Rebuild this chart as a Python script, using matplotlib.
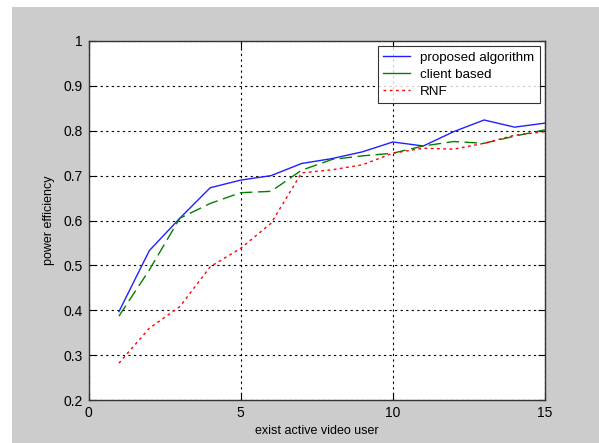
import matplotlib
matplotlib.use("Agg")
import matplotlib.pyplot as plt
from matplotlib.patches import Rectangle

plt.rcParams['font.family'] = ['Liberation Sans', 'DejaVu Sans']

users = [1, 2, 3, 4, 5, 6, 7, 8, 9, 10, 11, 12, 13, 14, 15]
proposed = [0.397, 0.533, 0.605, 0.673, 0.690, 0.700, 0.727, 0.738, 0.753, 0.775, 0.766, 0.798, 0.824, 0.808, 0.817]
client = [0.387, 0.490, 0.605, 0.638, 0.662, 0.665, 0.712, 0.736, 0.744, 0.750, 0.766, 0.776, 0.772, 0.788, 0.802]
rnf = [0.282, 0.360, 0.408, 0.497, 0.538, 0.594, 0.706, 0.713, 0.724, 0.750, 0.761, 0.759, 0.772, 0.790, 0.798]

xticks = [0, 5, 10, 15]
yticks = [0.2, 0.3, 0.4, 0.5, 0.6, 0.7, 0.8, 0.9, 1]
ytick_labels = ['0.2', '0.3', '0.4', '0.5', '0.6', '0.7', '0.8', '0.9', '1']

W, H = 599, 443
fig = plt.figure(figsize=(W / 100, H / 100), dpi=100, facecolor='white')
# grey window area with a thin white strip on the top and left
fig.patches.append(Rectangle((12 / W, 0), 1, (H - 7) / H, transform=fig.transFigure,
                             facecolor='#cccccc', edgecolor='none', zorder=-1))

ax = fig.add_axes([88.5 / W, (H - 400) / H, (545 - 88.5) / W, (400 - 41) / H])
ax.set_zorder(1)
ax.set_facecolor('white')

ax.plot(users, proposed, color='#2020ff', lw=1.0, label='proposed algorithm')
ax.plot(users, client, color='#008000', lw=1.0, dashes=(9, 4), label='client based')
ax.plot(users, rnf, color='#ff0000', lw=1.0, dashes=(2, 2.5), label='RNF')

ax.set_xlim(0, 15)
ax.set_ylim(0.2, 1)
ax.set_xticks(xticks)
ax.set_yticks(yticks)
ax.set_yticklabels(ytick_labels)
ax.grid(True, color='black', lw=0.8, dashes=(2, 3))
ax.tick_params(direction='in', length=5, width=0.8, top=True, right=True,
               labelsize=10, colors='black', pad=4)
for sp in ax.spines.values():
    sp.set_color('#333333')
    sp.set_linewidth(1.0)

ax.set_xlabel('exist active video user', fontsize=9, labelpad=4)
ax.set_ylabel('power efficiency', fontsize=9, labelpad=6)

leg = ax.legend(loc='upper right', fontsize=9.6, frameon=True, fancybox=False,
                handlelength=2.0, borderaxespad=0.4, labelspacing=0.35,
                borderpad=0.4, handletextpad=0.8)
leg.get_frame().set_edgecolor('black')
leg.get_frame().set_linewidth(0.8)
# legend swatches are drawn as solid short lines except RNF
for h in leg.get_lines()[:2]:
    h.set_dashes((None, None))
    h.set_linestyle('-')

fig.savefig('out.png', dpi=100, facecolor='white')
